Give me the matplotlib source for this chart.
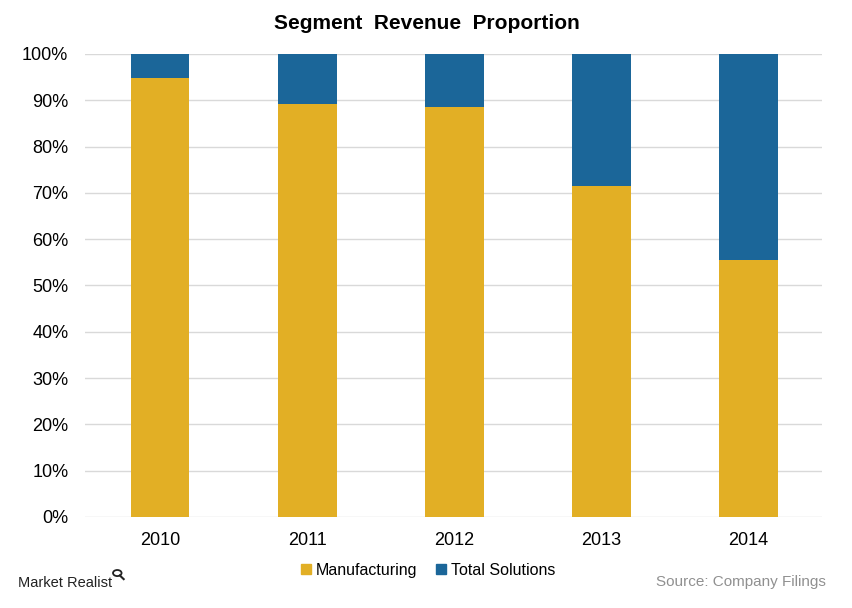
import matplotlib
matplotlib.use("Agg")
import matplotlib.pyplot as plt
from matplotlib.patches import Patch, Circle
from matplotlib.lines import Line2D

years = ["2010", "2011", "2012", "2013", "2014"]
manufacturing = [94.8, 89.2, 88.6, 71.5, 55.5]
total_solutions = [100 - v for v in manufacturing]
y_ticks = [0, 10, 20, 30, 40, 50, 60, 70, 80, 90, 100]
y_labels = [f"{t}%" for t in y_ticks]

plt.rcParams["font.family"] = ["Liberation Sans", "DejaVu Sans"]

gold = "#E2AF25"
blue = "#1B6699"

fig = plt.figure(figsize=(8.53, 6.08), dpi=100)
ax = fig.add_axes([0.0996, 0.1497, 0.8641, 0.7615])
x = list(range(len(years)))
ax.bar(x, manufacturing, width=0.4, color=gold, zorder=3)
ax.bar(x, total_solutions, width=0.4, bottom=manufacturing, color=blue, zorder=3)
ax.set_xlim(-0.51, 4.5)
ax.set_ylim(0, 100)
ax.set_yticks(y_ticks)
ax.set_yticklabels(y_labels, fontsize=13)
ax.set_xticks(x)
ax.set_xticklabels(years, fontsize=13)
ax.tick_params(axis="y", length=0, pad=12)
ax.tick_params(axis="x", length=0, pad=11)
ax.yaxis.grid(True, color="#D9D9D9", linewidth=1, zorder=0)
for s in ax.spines.values():
    s.set_visible(False)

fig.text(0.5, 0.962, "Segment  Revenue  Proportion", ha="center", va="center",
         fontsize=15, fontweight="bold")

handles = [Patch(color=gold, label="Manufacturing"), Patch(color=blue, label="Total Solutions")]
fig.legend(handles=handles, loc="center", bbox_to_anchor=(0.502, 0.062), ncol=2,
           frameon=False, fontsize=11.5, handlelength=0.6, handleheight=0.6,
           handletextpad=0.3, columnspacing=1.2)

fig.text(0.021, 0.041, "Market Realist", ha="left", va="center", fontsize=10.5,
         color="#222222")
# small magnifier logo mark drawn as shapes
fig.add_artist(Circle((0.1375, 0.0575), 0.0050, transform=fig.transFigure,
                      fill=False, edgecolor="#222222", linewidth=1.3))
fig.add_artist(Line2D([0.1405, 0.1450], [0.0535, 0.0475], transform=fig.transFigure,
                      color="#222222", linewidth=1.5))
fig.text(0.968, 0.043, "Source: Company Filings", ha="right", va="center",
         fontsize=11, color="#909090")

fig.savefig("out.png", dpi=100)
